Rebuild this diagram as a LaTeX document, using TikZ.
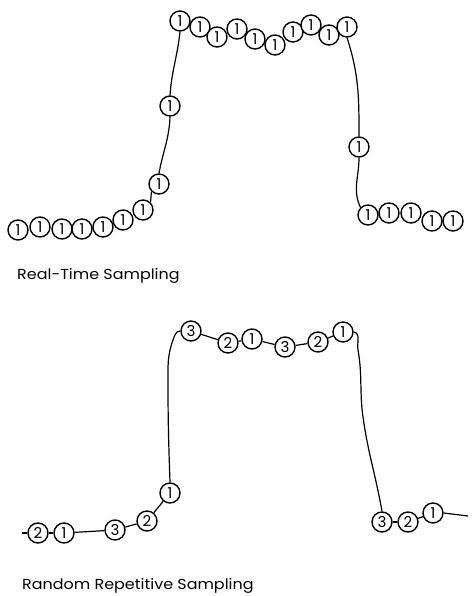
\documentclass[tikz,border=0pt]{standalone}
\usepackage{fontspec}
\setmainfont{Poppins}
\begin{document}
\begin{tikzpicture}[x=1pt,y=-1pt,
  smp/.style={circle,draw,fill=white,line width=1.4pt,minimum size=20pt,inner sep=0pt,font=\fontsize{15}{15}\selectfont},
  wave/.style={line width=1.2pt},
  lbl/.style={anchor=base west,inner sep=0pt,xscale=1.1,font=\fontsize{14.5}{14.5}\selectfont}]
\useasboundingbox (0,0) rectangle (471,596);
% ---------- Real-time sampling ----------
\node[smp] (t1) at (180,21) {1};
\node[smp] (t2) at (200,27) {1};
\node[smp] (t3) at (217,37) {1};
\node[smp] (t4) at (237,29) {1};
\node[smp] (t5) at (255,39) {1};
\node[smp] (t6) at (275,45) {1};
\node[smp] (t7) at (293,32) {1};
\node[smp] (t8) at (311,25) {1};
\node[smp] (t9) at (329,35) {1};
\node[smp] (t10) at (347,27) {1};
\node[smp] (m1) at (170,106) {1};
\node[smp] (m2) at (159,184) {1};
\node[smp] (l1) at (18,230) {1};
\node[smp] (l2) at (40,227) {1};
\node[smp] (l3) at (62,229) {1};
\node[smp] (l4) at (82,229) {1};
\node[smp] (l5) at (103,227) {1};
\node[smp] (l6) at (123,220) {1};
\node[smp] (l7) at (143,210) {1};
\node[smp] (r0) at (359,147) {1};
\node[smp] (r1) at (368,215) {1};
\node[smp] (r2) at (389,213) {1};
\node[smp] (r3) at (411,213) {1};
\node[smp] (r4) at (432,221) {1};
\node[smp] (r5) at (453,221) {1};
\draw[wave] (t1.south) to[out=-96,in=86] (m1.north);
\draw[wave] (m1.south) to[out=-92,in=80] (m2.north);
\draw[wave] (m2.south west) -- (l7.north east);
\draw[wave] (t10.south) to[out=-72,in=90] (r0.north);
\draw[wave] (r0.south) to[out=-90,in=115] (r1.north west);
\node[lbl] (lab1) at (17,279) {Real-Time Sampling};
% ---------- Random repetitive sampling ----------
\coordinate (s0) at (22,533);
\node[smp] (a1) at (38,533) {2};
\node[smp] (a2) at (64,533) {1};
\node[smp] (a3) at (115,530) {3};
\node[smp] (a4) at (147,521) {2};
\node[smp] (a5) at (170,493) {1};
\node[smp] (b1) at (191,331) {3};
\node[smp] (b2) at (228,343) {2};
\node[smp] (b3) at (252,339) {1};
\node[smp] (b4) at (285,347) {3};
\node[smp] (b5) at (318,342) {2};
\node[smp] (b6) at (343,332) {1};
\node[smp] (c1) at (382,522) {3};
\node[smp] (c2) at (408,522) {2};
\node[smp] (c3) at (433,513) {1};
\coordinate (s1) at (468,516);
\draw[wave] (s0) -- (a1);
\draw[wave] (a1) -- (a2);
\draw[wave] (a2) -- (a3);
\draw[wave] (a3) -- (a4);
\draw[wave] (a4) -- (a5);
\draw[wave] (a5.north) to[out=92,in=-90] (168,383) to[out=90,in=-110] (173,340) to[out=70,in=180] (b1.west);
\draw[wave] (b1) -- (b2);
\draw[wave] (b2) -- (b3);
\draw[wave] (b3) -- (b4);
\draw[wave] (b4) -- (b5);
\draw[wave] (b5) -- (b6);
\draw[wave] (b6.east) to[out=-10,in=100] (358,350) to[out=-80,in=98] (363,417) to[out=-82,in=100] (c1.north);
\draw[wave] (c1) -- (c2);
\draw[wave] (c2) -- (c3);
\draw[wave] (c3.east) -- (s1);
\node[lbl] (lab2) at (22,589) {Random Repetitive Sampling};
\end{tikzpicture}
\end{document}
